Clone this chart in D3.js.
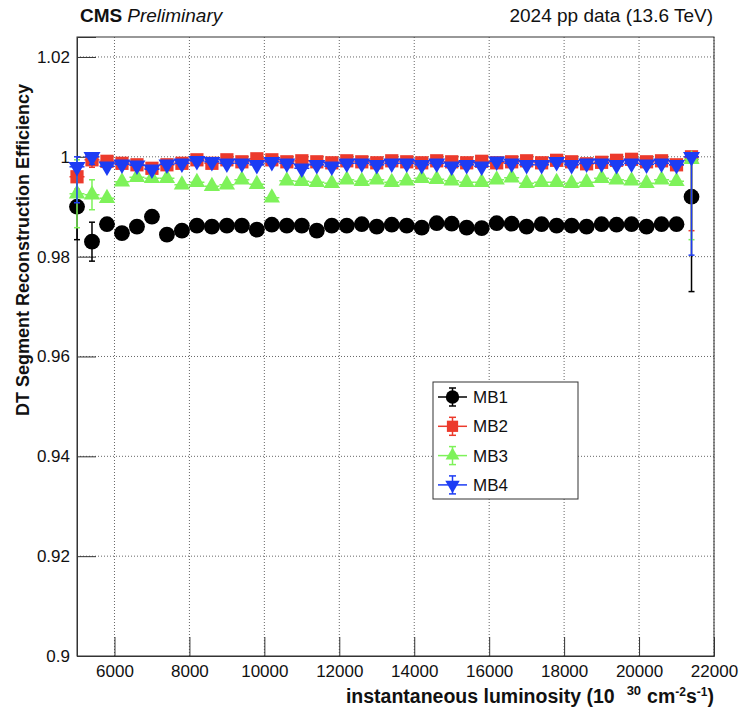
<html>
<head>
<script src="https://d3js.org/d3.v7.min.js"></script>
<style>
  body { margin: 0; background: #fff; }
  text { font-family: "Liberation Sans", Arial, Helvetica, sans-serif; }
</style>
</head>
<body>
<svg id="svg" width="739" height="714"></svg>
<script>
// instantaneous luminosity bins (10^30 cm^-2 s^-1)
var lumi = [5000, 5400, 5800, 6200, 6600, 7000, 7400, 7800, 8200, 8600,
            9000, 9400, 9800, 10200, 10600, 11000, 11400, 11800, 12200, 12600,
            13000, 13400, 13800, 14200, 14600, 15000, 15400, 15800, 16200, 16600,
            17000, 17400, 17800, 18200, 18600, 19000, 19400, 19800, 20200, 20600,
            21000, 21400];

var mb1 = [0.9900, 0.9830, 0.9865, 0.9847, 0.9860, 0.9880, 0.9844, 0.9852, 0.9862, 0.9860,
           0.9862, 0.9862, 0.9854, 0.9864, 0.9862, 0.9862, 0.9852, 0.9862, 0.9862, 0.9865,
           0.9860, 0.9864, 0.9862, 0.9858, 0.9867, 0.9866, 0.9858, 0.9857, 0.9867, 0.9866,
           0.9860, 0.9865, 0.9862, 0.9862, 0.9860, 0.9865, 0.9864, 0.9865, 0.9860, 0.9865,
           0.9865, 0.9920];
var mb2 = [0.9960, 0.9994, 0.9991, 0.9987, 0.9984, 0.9977, 0.9984, 0.9987, 0.9994, 0.9987,
           0.9994, 0.9990, 0.9996, 0.9994, 0.9990, 0.9992, 0.9990, 0.9988, 0.9992, 0.9990,
           0.9988, 0.9992, 0.9990, 0.9988, 0.9992, 0.9990, 0.9988, 0.9991, 0.9988, 0.9990,
           0.9992, 0.9988, 0.9993, 0.9990, 0.9986, 0.9989, 0.9993, 0.9995, 0.9990, 0.9992,
           0.9984, 1.0000];
var mb3 = [0.9926, 0.9924, 0.9917, 0.9950, 0.9959, 0.9957, 0.9957, 0.9944, 0.9949, 0.9941,
           0.9944, 0.9954, 0.9945, 0.9918, 0.9952, 0.9951, 0.9949, 0.9947, 0.9954, 0.9951,
           0.9954, 0.9949, 0.9952, 0.9957, 0.9955, 0.9952, 0.9949, 0.9949, 0.9954, 0.9958,
           0.9947, 0.9949, 0.9949, 0.9947, 0.9949, 0.9957, 0.9954, 0.9952, 0.9947, 0.9954,
           0.9951, 0.9995];
var mb4 = [0.9980, 1.0000, 0.9981, 0.9985, 0.9983, 0.9975, 0.9985, 0.9987, 0.9992, 0.9990,
           0.9987, 0.9987, 0.9984, 0.9990, 0.9987, 0.9977, 0.9984, 0.9981, 0.9987, 0.9987,
           0.9984, 0.9987, 0.9987, 0.9984, 0.9987, 0.9981, 0.9984, 0.9981, 0.9991, 0.9987,
           0.9984, 0.9984, 0.9990, 0.9984, 0.9987, 0.9987, 0.9984, 0.9987, 0.9985, 0.9987,
           0.9984, 1.0000];

// larger (asymmetric) errors: [index, low, high]; all other points use defaultErr
var defaultErr = 0.0005;
var mb1Err = [[0, 0.0066, 0.0066], [1, 0.0039, 0.0039], [41, 0.0190, 0.0080]];
var mb2Err = [[0, 0.0025, 0.0025], [1, 0.0015, 0.0006], [41, 0.0148, 0.0000]];
var mb3Err = [[0, 0.0068, 0.0068], [1, 0.0030, 0.0030], [41, 0.0161, 0.0005]];
var mb4Err = [[0, 0.0072, 0.0020], [1, 0.0015, 0.0000], [41, 0.0197, 0.0000]];
var xHalfWidth = 200;

var xTicks = [6000, 8000, 10000, 12000, 14000, 16000, 18000, 20000, 22000];
var xTickLabels = ["6000", "8000", "10000", "12000", "14000", "16000", "18000", "20000", "22000"];
var yTicks = [0.9, 0.92, 0.94, 0.96, 0.98, 1.0, 1.02];
var yTickLabels = ["0.9", "0.92", "0.94", "0.96", "0.98", "1", "1.02"];

var seriesNames = ["MB1", "MB2", "MB3", "MB4"];
var seriesColors = ["#000000", "#ec3a2c", "#7ef25a", "#1c3cf4"];

var svg = d3.select("svg");
var plotL = 77, plotR = 714, plotT = 37, plotB = 656;

var x = d3.scaleLinear().domain([5000, 22000]).range([plotL, plotR]);
var y = d3.scaleLinear().domain([0.9, 1.024]).range([plotB, plotT]);

// grid
var grid = svg.append("g").attr("stroke", "#666").attr("stroke-width", 1).attr("stroke-dasharray", "1,2");
xTicks.forEach(function(t) {
    grid.append("line").attr("x1", x(t)).attr("x2", x(t)).attr("y1", plotT).attr("y2", plotB);
});
yTicks.slice(1).forEach(function(t) {
    grid.append("line").attr("x1", plotL).attr("x2", plotR).attr("y1", y(t)).attr("y2", y(t));
});

// frame
svg.append("rect").attr("x", plotL).attr("y", plotT).attr("width", plotR - plotL).attr("height", plotB - plotT)
   .attr("fill", "none").attr("stroke", "#333").attr("stroke-width", 1);

// axes
var xMinor = d3.range(5000, 22001, 500);
var yMinor = d3.range(0, 25).map(function(i) { return 0.9 + i * 0.005; });

var gx = svg.append("g").attr("transform", "translate(0," + plotB + ")");
gx.call(d3.axisBottom(x).tickValues(xMinor).tickSize(-9.5).tickFormat(""));
gx.call(d3.axisBottom(x).tickValues(xTicks).tickSize(-19).tickPadding(9)
        .tickFormat(function(d, i) { return xTickLabels[i]; }));
var gy = svg.append("g").attr("transform", "translate(" + plotL + ",0)");
gy.call(d3.axisLeft(y).tickValues(yMinor).tickSize(-9.5).tickFormat(""));
gy.call(d3.axisLeft(y).tickValues(yTicks).tickSize(-19).tickPadding(7)
        .tickFormat(function(d, i) { return yTickLabels[i]; }));
svg.selectAll(".domain").attr("stroke", "#333");
svg.selectAll(".tick line").attr("stroke", "#333");
svg.selectAll(".tick text").attr("font-size", 17).attr("fill", "#111")
   .attr("font-family", "Liberation Sans, Arial, sans-serif");

// markers
var symbols = [
    d3.symbol().type(d3.symbolCircle).size(195),
    d3.symbol().type(d3.symbolSquare).size(175),
    d3.symbol().type(d3.symbolTriangle).size(115),
    d3.symbol().type(d3.symbolTriangle).size(125)
];
var rotations = [0, 0, 0, 180];
var allSeries = [mb1, mb2, mb3, mb4];
var allErr = [mb1Err, mb2Err, mb3Err, mb4Err];

function errFor(list, i) {
    for (var k = 0; k < list.length; k++) if (list[k][0] === i) return [list[k][1], list[k][2]];
    return [defaultErr, defaultErr];
}

allSeries.forEach(function(vals, s) {
    var g = svg.append("g");
    var col = seriesColors[s];
    var pts = vals.map(function(v, i) {
        var e = errFor(allErr[s], i);
        return { x: lumi[i], v: v, lo: e[0], hi: e[1] };
    });
    var eb = g.selectAll(".eb").data(pts).enter().append("g")
        .attr("stroke", col).attr("stroke-width", 1.5).attr("fill", "none");
    eb.append("line").attr("x1", function(d) { return x(d.x - xHalfWidth); })
        .attr("x2", function(d) { return x(d.x + xHalfWidth); })
        .attr("y1", function(d) { return y(d.v); }).attr("y2", function(d) { return y(d.v); });
    eb.append("line").attr("x1", function(d) { return x(d.x); }).attr("x2", function(d) { return x(d.x); })
        .attr("y1", function(d) { return y(d.v - d.lo); }).attr("y2", function(d) { return y(d.v + d.hi); });
    eb.append("line").attr("x1", function(d) { return x(d.x) - 3; }).attr("x2", function(d) { return x(d.x) + 3; })
        .attr("y1", function(d) { return y(d.v - d.lo); }).attr("y2", function(d) { return y(d.v - d.lo); });
    eb.append("line").attr("x1", function(d) { return x(d.x) - 3; }).attr("x2", function(d) { return x(d.x) + 3; })
        .attr("y1", function(d) { return y(d.v + d.hi); }).attr("y2", function(d) { return y(d.v + d.hi); });
    g.selectAll(".mk").data(pts).enter().append("path")
        .attr("d", symbols[s])
        .attr("transform", function(d) { return "translate(" + x(d.x) + "," + y(d.v) + ") rotate(" + rotations[s] + ")"; })
        .attr("fill", col);
});

// legend
var lg = svg.append("g");
lg.append("rect").attr("x", 433).attr("y", 382).attr("width", 145).attr("height", 117)
  .attr("fill", "#fff").attr("stroke", "#333").attr("stroke-width", 1);
seriesNames.forEach(function(name, s) {
    var cy = 397 + s * 29.3;
    var col = seriesColors[s];
    var e = lg.append("g").attr("stroke", col).attr("stroke-width", 1.5);
    e.append("line").attr("x1", 438).attr("x2", 467).attr("y1", cy).attr("y2", cy);
    e.append("line").attr("x1", 452.5).attr("x2", 452.5).attr("y1", cy - 9).attr("y2", cy + 9);
    e.append("line").attr("x1", 449).attr("x2", 456).attr("y1", cy - 9).attr("y2", cy - 9);
    e.append("line").attr("x1", 449).attr("x2", 456).attr("y1", cy + 9).attr("y2", cy + 9);
    lg.append("path").attr("d", symbols[s])
      .attr("transform", "translate(452.5," + cy + ") rotate(" + rotations[s] + ") scale(0.85)").attr("fill", col);
    lg.append("text").attr("x", 473).attr("y", cy + 6).attr("font-size", 17).attr("fill", "#111").text(name);
});

// titles
var t1 = svg.append("text").attr("x", 80).attr("y", 22).attr("font-size", 19).attr("fill", "#111");
t1.append("tspan").attr("font-weight", "bold").text("CMS");
t1.append("tspan").attr("font-style", "italic").attr("dx", 5).text("Preliminary");
svg.append("text").attr("x", 713).attr("y", 22).attr("text-anchor", "end").attr("font-size", 19)
   .attr("fill", "#111").text("2024 pp data (13.6 TeV)");

var xl = svg.append("text").attr("x", 714).attr("y", 703).attr("text-anchor", "end")
   .attr("font-size", 19.5).attr("font-weight", "bold").attr("fill", "#111");
xl.append("tspan").text("instantaneous luminosity (10");
xl.append("tspan").attr("dx", 12).attr("dy", -8).attr("font-size", 13).text("30");
xl.append("tspan").attr("dx", 6).attr("dy", 8).text("cm");
xl.append("tspan").attr("dy", -7).attr("font-size", 12).text("-2");
xl.append("tspan").attr("dy", 7).text("s");
xl.append("tspan").attr("dy", -7).attr("font-size", 12).text("-1");
xl.append("tspan").attr("dy", 7).text(")");

svg.append("text").attr("transform", "translate(29,84) rotate(-90)").attr("text-anchor", "end")
   .attr("font-size", 18).attr("font-weight", "bold").attr("fill", "#111")
   .text("DT Segment Reconstruction Efficiency");
</script>
</body>
</html>
